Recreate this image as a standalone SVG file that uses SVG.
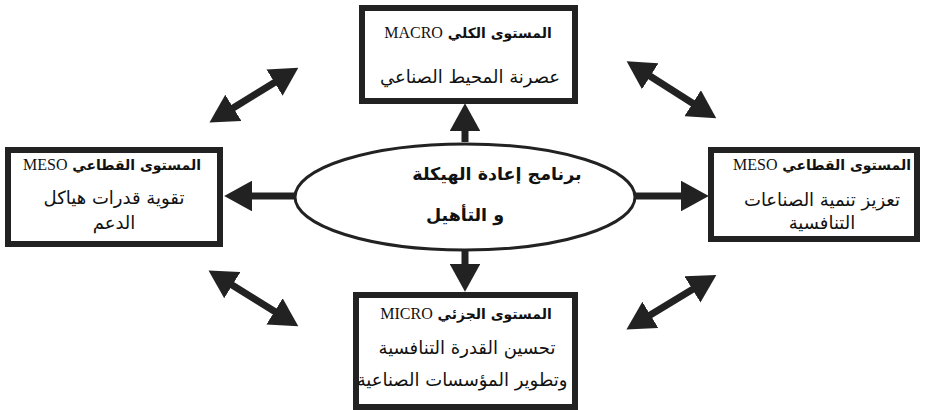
<svg xmlns="http://www.w3.org/2000/svg" width="925" height="410" viewBox="0 0 925 410">
<defs>
<style>
.box{fill:#fff;stroke:#222;stroke-width:6}
.ell{fill:#fff;stroke:#222;stroke-width:3}
.t{font-family:"DejaVu Sans","Noto Sans",sans-serif;fill:#111;text-anchor:middle}
.title{font-size:14px;font-weight:bold}
.lat{font-family:"Liberation Serif",serif;font-weight:normal;font-size:16px}
.body{font-size:18px}
.ctr{font-size:17.5px;font-weight:bold}
.ln{stroke:#222;stroke-width:7;fill:none}
</style>
<marker id="ah" markerWidth="4" markerHeight="4.4" refX="2.6" refY="2.2" orient="auto" markerUnits="strokeWidth">
<path d="M0,0 L4,2.2 L0,4.4 Z" fill="#222"/>
</marker>
<marker id="ahs" markerWidth="4" markerHeight="4.4" refX="1.4" refY="2.2" orient="auto-start-reverse" markerUnits="strokeWidth">
<path d="M0,0 L4,2.2 L0,4.4 Z" fill="#222"/>
</marker>
</defs>
<g id="connectors">
<line class="ln" x1="465" y1="142" x2="465" y2="113" marker-end="url(#ah)"/>
<line class="ln" x1="465" y1="251" x2="465" y2="282" marker-end="url(#ah)"/>
<line class="ln" x1="295" y1="196" x2="234" y2="196" marker-end="url(#ah)"/>
<line class="ln" x1="635" y1="196" x2="699" y2="196" marker-end="url(#ah)"/>
<line class="ln" x1="225" y1="113" x2="290" y2="73" marker-start="url(#ahs)" marker-end="url(#ah)"/>
<line class="ln" x1="642" y1="71" x2="708" y2="113" marker-start="url(#ahs)" marker-end="url(#ah)"/>
<line class="ln" x1="224" y1="280" x2="290" y2="321" marker-start="url(#ahs)" marker-end="url(#ah)"/>
<line class="ln" x1="642" y1="320" x2="708" y2="280" marker-start="url(#ahs)" marker-end="url(#ah)"/>
</g>
<g id="center">
<ellipse class="ell" cx="465" cy="197" rx="170" ry="53"/>
<text class="t ctr" x="497" y="180" direction="rtl">برنامج إعادة الهيكلة</text>
<text class="t ctr" x="465" y="221" direction="rtl">و التأهيل</text>
</g>
<g id="macro">
<rect class="box" x="362" y="8" width="213" height="93"/>
<text class="t title" x="468" y="38" direction="rtl">المستوى الكلي <tspan class="lat">MACRO</tspan></text>
<text class="t body" x="470" y="83" direction="rtl">عصرنة المحيط الصناعي</text>
</g>
<g id="meso-left">
<rect class="box" x="8" y="150" width="212" height="94"/>
<text class="t title" x="112" y="170" direction="rtl">المستوى القطاعي <tspan class="lat">MESO</tspan></text>
<text class="t body" x="114" y="204" direction="rtl">تقوية قدرات هياكل</text>
<text class="t body" x="114" y="229" direction="rtl">الدعم</text>
</g>
<g id="meso-right">
<rect class="box" x="711" y="150" width="206" height="89"/>
<text class="t title" x="822" y="170" direction="rtl">المستوى القطاعي <tspan class="lat">MESO</tspan></text>
<text class="t body" x="822" y="206" direction="rtl">تعزيز تنمية الصناعات</text>
<text class="t body" x="822" y="229" direction="rtl">التنافسية</text>
</g>
<g id="micro">
<rect class="box" x="356" y="295" width="219" height="112"/>
<text class="t title" x="466" y="319" direction="rtl">المستوى الجزئي <tspan class="lat">MICRO</tspan></text>
<text class="t body" x="467" y="354" direction="rtl">تحسين القدرة التنافسية</text>
<text class="t body" x="462" y="386" direction="rtl">وتطوير المؤسسات الصناعية</text>
</g>
</svg>
